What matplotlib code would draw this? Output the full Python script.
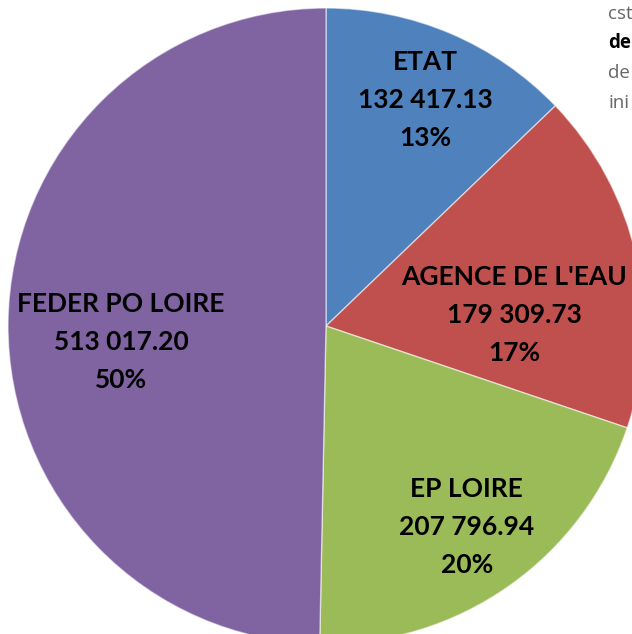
"""Pie chart of funding sources (ETAT, Agence de l'eau, EP Loire, FEDER)."""

import matplotlib.pyplot as plt

# data
sources = ["ETAT", "AGENCE DE L'EAU", "EP LOIRE", "FEDER PO LOIRE"]
amounts = [132417.13, 179309.73, 207796.94, 513017.20]
amount_labels = ["132 417.13", "179 309.73", "207 796.94", "513 017.20"]
percent_labels = ["13%", "17%", "20%", "50%"]
side_lines = ["cst", "de", "de", "ini"]

COLORS = ["#4F81BD", "#C0504D", "#9BBB59", "#8064A2"]
# label centres, in units of pie radius (positions tuned by hand in the source)
LABEL_POS = [(0.311, 0.711), (0.591, 0.035), (0.443, -0.632), (-0.645, -0.050)]

W, H = 632, 634
CX, CY, R = 326, 326, 318

fig = plt.figure(figsize=(W / 100, H / 100), dpi=100)
ax = fig.add_axes([(CX - R) / W, (H - CY - R) / H, 2 * R / W, 2 * R / H])

ax.pie(
    amounts,
    colors=COLORS,
    startangle=90,
    counterclock=False,
    radius=1,
    wedgeprops=dict(edgecolor=(1, 1, 1, 0.55), linewidth=1.0),
    frame=True,
)
ax.set_xlim(-1, 1)
ax.set_ylim(-1, 1)
ax.axis("off")

for name, amt, pct, (x, y) in zip(sources, amount_labels, percent_labels, LABEL_POS):
    ax.text(x, y, f"{name}\n{amt}\n{pct}", ha="center", va="center",
            fontsize=19, fontweight="bold", family="Lato", linespacing=1.7,
            color="black")

# cut-off side text at the top right corner
for i, line in enumerate(side_lines):
    bold = i == 1
    fig.text(608 / W, 1 - (14 + i * 29.5) / H, line, ha="left", va="center",
             fontsize=13.5, family="Open Sans",
             fontweight="bold" if bold else "normal",
             color="black" if bold else "#666666")

fig.savefig("out.png", dpi=100)
